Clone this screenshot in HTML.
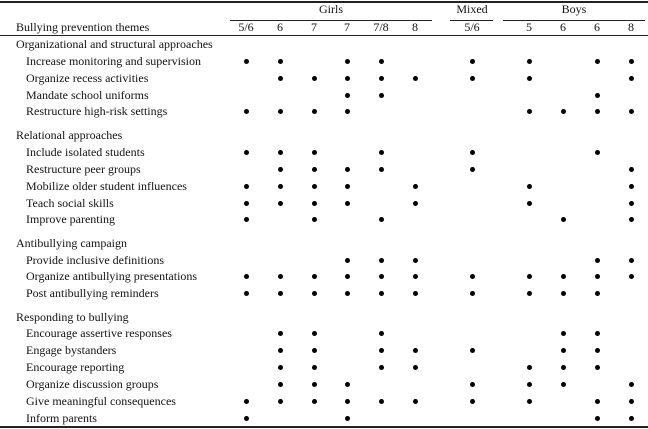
<!DOCTYPE html>
<html><head><style>
body{margin:0;width:648px;height:429px;background:#fff;position:relative;overflow:hidden;font-family:"Liberation Serif",serif;font-size:12px;color:#111}
.t{position:absolute;white-space:nowrap;line-height:14px}
.c{position:absolute;width:40px;margin-left:-20px;text-align:center;line-height:14px}
.l{position:absolute;background:#222}
.d{position:absolute;width:5px;height:5px;border-radius:50%;background:#000;margin:-2.5px 0 0 -2.5px}
</style></head><body>
<div class="l" style="left:0;top:1px;width:648px;height:2px"></div>
<div class="c" style="left:331px;top:2px">Girls</div>
<div class="c" style="left:472px;top:2px">Mixed</div>
<div class="c" style="left:574px;top:2px">Boys</div>
<div class="l" style="left:230px;top:20px;width:202px;height:1px"></div>
<div class="l" style="left:450px;top:20px;width:43px;height:1px"></div>
<div class="l" style="left:503px;top:20px;width:142px;height:1px"></div>
<div class="t" style="left:16px;top:20px">Bullying prevention themes</div>
<div id="hdr"></div>
<div class="l" style="left:0;top:35px;width:648px;height:1px"></div>
<div class="t" style="left:16px;top:37px">Organizational and structural approaches</div>
<div class="t" style="left:26px;top:54px">Increase monitoring and supervision</div>
<div class="t" style="left:26px;top:71px">Organize recess activities</div>
<div class="t" style="left:26px;top:88px">Mandate school uniforms</div>
<div class="t" style="left:26px;top:104px">Restructure high-risk settings</div>
<div class="t" style="left:16px;top:128px">Relational approaches</div>
<div class="t" style="left:26px;top:145px">Include isolated students</div>
<div class="t" style="left:26px;top:162px">Restructure peer groups</div>
<div class="t" style="left:26px;top:179px">Mobilize older student influences</div>
<div class="t" style="left:26px;top:196px">Teach social skills</div>
<div class="t" style="left:26px;top:212px">Improve parenting</div>
<div class="t" style="left:16px;top:236px">Antibullying campaign</div>
<div class="t" style="left:26px;top:253px">Provide inclusive definitions</div>
<div class="t" style="left:26px;top:269px">Organize antibullying presentations</div>
<div class="t" style="left:26px;top:286px">Post antibullying reminders</div>
<div class="t" style="left:16px;top:310px">Responding to bullying</div>
<div class="t" style="left:26px;top:326px">Encourage assertive responses</div>
<div class="t" style="left:26px;top:343px">Engage bystanders</div>
<div class="t" style="left:26px;top:360px">Encourage reporting</div>
<div class="t" style="left:26px;top:377px">Organize discussion groups</div>
<div class="t" style="left:26px;top:394px">Give meaningful consequences</div>
<div class="t" style="left:26px;top:411px">Inform parents</div>
<div class="l" style="left:0;top:426px;width:648px;height:2px"></div>
<script>
var X=[246,280,314,347,381,415,472,529,563,597,631];
var H=["5/6","6","7","7","7/8","8","5/6","5","6","6","8"];
var s="";
H.forEach(function(h,i){s+='<div class="c" style="left:'+X[i]+'px;top:20px">'+h+'</div>';});
var R=[[61,[0,1,3,4,6,7,9,10]],[78,[1,2,3,4,5,6,7,10]],[95,[3,4,9]],[111,[0,1,2,3,7,8,9,10]],
[152,[0,1,2,4,6,9]],[169,[1,2,3,4,6,10]],[186,[0,1,2,3,5,7,10]],[203,[0,1,2,3,5,7,10]],[219,[0,2,4,8,10]],
[260,[3,4,5,9,10]],[276,[0,1,2,3,4,5,6,7,8,9,10]],[293,[0,1,2,3,4,5,6,7,8,9]],
[333,[1,2,4,8,9]],[350,[1,2,4,5,6,8,9]],[367,[1,2,4,5,7,8,9]],[384,[1,2,3,6,7,8,10]],[401,[0,1,2,3,4,5,6,7,9,10]],[418,[0,3,9,10]]];
R.forEach(function(r){r[1].forEach(function(c){s+='<div class="d" style="left:'+X[c]+'px;top:'+r[0]+'px"></div>';});});
document.getElementById("hdr").innerHTML=s;
</script>
</body></html>
